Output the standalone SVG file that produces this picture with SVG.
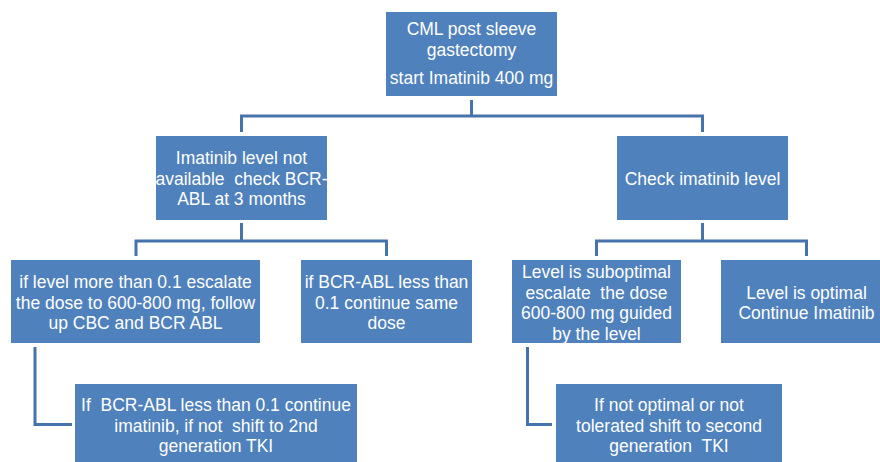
<svg xmlns="http://www.w3.org/2000/svg" width="880" height="462" viewBox="0 0 880 462">
<style>
.box{fill:#4F81BD;stroke:none}
.t{font-family:"Liberation Sans",Arial,sans-serif;font-size:17.5px;fill:#FFFFFF;text-anchor:middle;white-space:pre}
.c{fill:none;stroke:#4673AA;stroke-width:3;stroke-linecap:butt;stroke-linejoin:miter}
</style>
<rect width="880" height="462" fill="#FFFFFF"/>
<g id="connectors">
<path class="c" d="M471.5,100 V116 M241.5,116 H702.5 M241.5,114.5 V132 M702.5,114.5 V132"/>
<path class="c" d="M241.5,223 V241 M136,241 H386.5 M136,239.5 V256 M386.5,239.5 V256"/>
<path class="c" d="M702.5,223 V241 M596.5,241 H806.5 M596.5,239.5 V256 M806.5,239.5 V256"/>
<path class="c" d="M35,347 V424.5 H72"/>
<path class="c" d="M527.5,347 V424.5 H552"/>
</g>
<g id="n1">
<rect class="box" x="386" y="12" width="171" height="84"/>
<text class="t" x="471.5" y="34.5">CML post sleeve</text>
<text class="t" x="471.5" y="55.5">gastectomy</text>
<text class="t" x="471.5" y="84">start Imatinib 400 mg</text>
</g>
<g id="n2">
<rect class="box" x="156" y="136" width="171" height="84"/>
<text class="t" x="241.5" y="164">Imatinib level not</text>
<text class="t" x="241.5" y="184.5">available  check BCR-</text>
<text class="t" x="241.5" y="205">ABL at 3 months</text>
</g>
<g id="n3">
<rect class="box" x="617" y="136" width="171" height="84"/>
<text class="t" x="702.5" y="184.5">Check imatinib level</text>
</g>
<g id="n4">
<rect class="box" x="11" y="260" width="249" height="83"/>
<text class="t" x="135.5" y="288">if level more than 0.1 escalate</text>
<text class="t" x="135.5" y="308.5">the dose to 600-800 mg, follow</text>
<text class="t" x="135.5" y="329">up CBC and BCR ABL</text>
</g>
<g id="n5">
<rect class="box" x="301" y="260" width="171" height="83"/>
<text class="t" x="386.5" y="288">if BCR-ABL less than</text>
<text class="t" x="386.5" y="308.5">0.1 continue same</text>
<text class="t" x="386.5" y="329">dose</text>
</g>
<g id="n6">
<rect class="box" x="512" y="260" width="169" height="83"/>
<text class="t" x="596.5" y="278">Level is suboptimal</text>
<text class="t" x="596.5" y="298.5">escalate  the dose</text>
<text class="t" x="596.5" y="319">600-800 mg guided</text>
<text class="t" x="596.5" y="339.5">by the level</text>
</g>
<g id="n7">
<rect class="box" x="721" y="260" width="171" height="83"/>
<text class="t" x="806.5" y="298.5">Level is optimal</text>
<text class="t" x="806.5" y="319">Continue Imatinib</text>
</g>
<g id="n8">
<rect class="box" x="75" y="384" width="282" height="84"/>
<text class="t" x="216" y="411">If  BCR-ABL less than 0.1 continue</text>
<text class="t" x="216" y="431.5">imatinib, if not  shift to 2nd</text>
<text class="t" x="216" y="452">generation TKI</text>
</g>
<g id="n9">
<rect class="box" x="556" y="384" width="226" height="84"/>
<text class="t" x="669" y="411">If not optimal or not</text>
<text class="t" x="669" y="431.5">tolerated shift to second</text>
<text class="t" x="669" y="452">generation  TKI</text>
</g>
</svg>
